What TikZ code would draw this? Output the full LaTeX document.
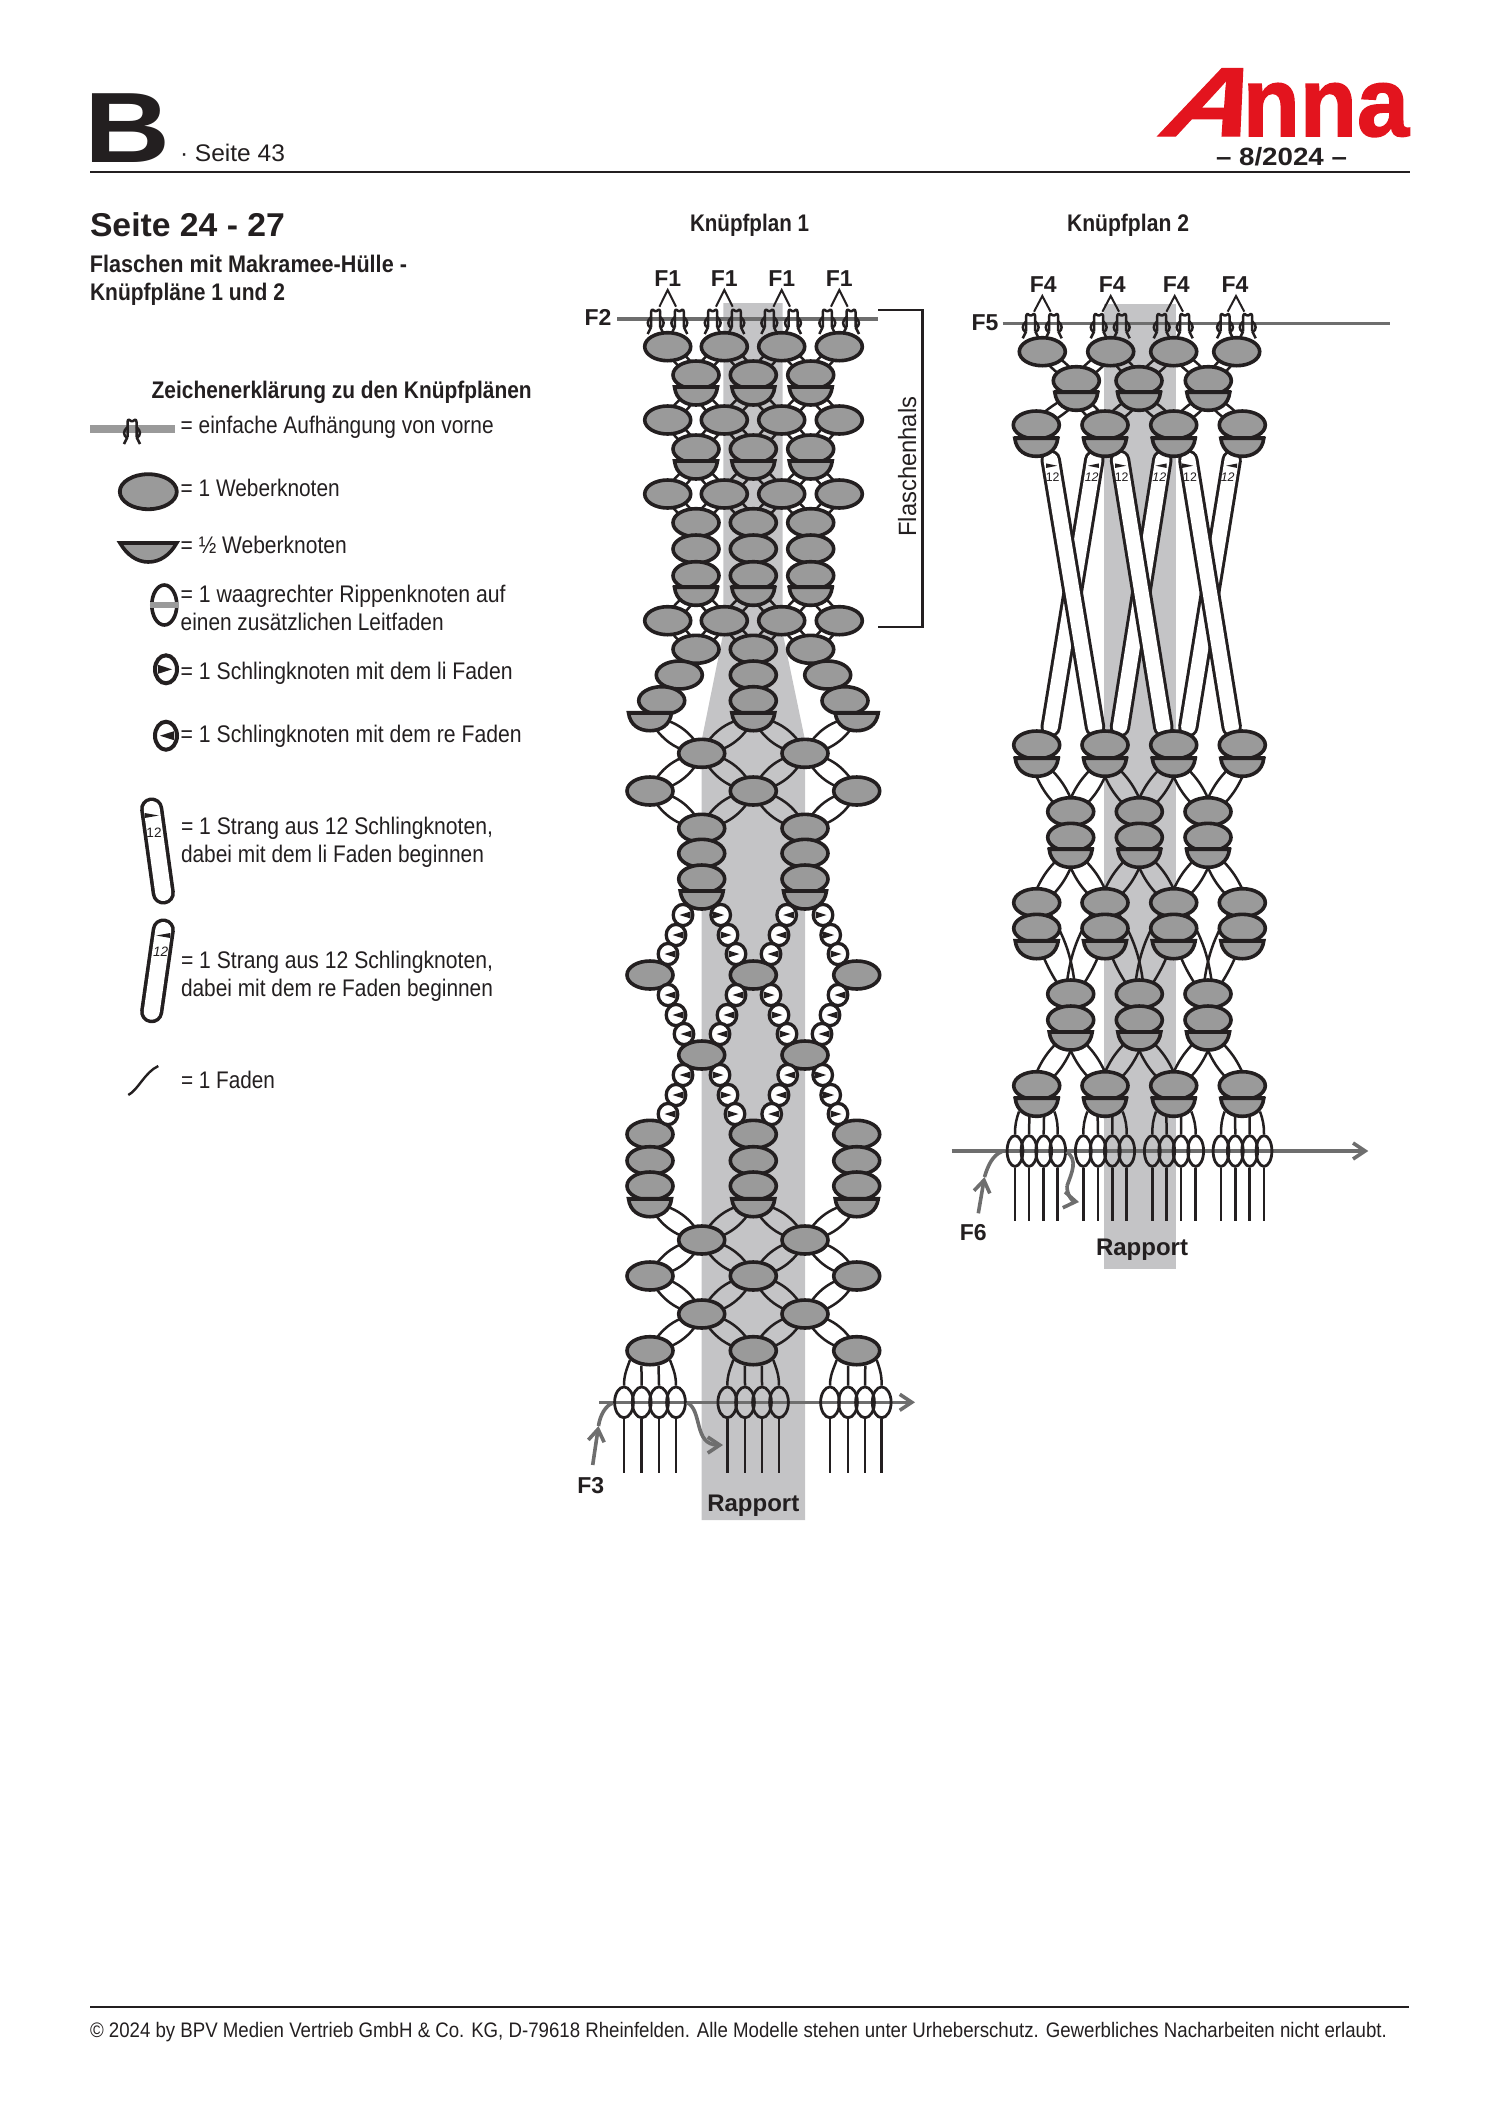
\documentclass[tikz,border=0pt]{standalone}
\usepackage{graphicx}
\usepackage{fontspec}
\setmainfont{Liberation Sans}
\newfontfamily\logoAf[FakeSlant=0.4,FakeBold=1.2]{Liberation Sans}
\newfontfamily\logoNf[FakeBold=1.6]{Liberation Sans}
\usetikzlibrary{shapes.geometric,arrows.meta,calc}
\definecolor{ink}{HTML}{231F20}
\definecolor{knotgrey}{HTML}{9A9A9A}
\definecolor{rapp}{HTML}{C4C4C6}
\definecolor{guide}{HTML}{6E6E6E}
\definecolor{logored}{HTML}{E3141E}
\pgfdeclarelayer{bg}
\pgfsetlayers{bg,main}
\newcommand\fw[2]{\setbox0=\hbox{#2}\pgfmathsetmacro\fwf{(#1)*0.5/\the\wd0}\scalebox{\fwf}[1]{\box0}}
\tikzset{
  txt/.style={anchor=base west,inner sep=0pt,outer sep=0pt,text=ink},
  ctxt/.style={anchor=base,inner sep=0pt,outer sep=0pt,text=ink},
  lab/.style={ctxt,font=\fontsize{11.5}{11.5}\selectfont\bfseries},
  body/.style={txt,font=\fontsize{12}{12}\selectfont},
  head/.style={txt,font=\fontsize{12}{12}\selectfont\bfseries},
  weave/.style={ellipse,draw=ink,fill=knotgrey,line width=1.8pt,inner sep=0pt,minimum width=23pt,minimum height=14pt},
  halfst/.style={draw=ink,fill=knotgrey,line width=1.8pt,line join=miter},
  hanchor/.style={ellipse,inner sep=0pt,minimum width=22pt,minimum height=13pt},
  sling/.style={ellipse,draw=ink,fill=white,line width=1.65pt,inner sep=0pt,minimum width=9.8pt,minimum height=10.6pt},
  rib/.style={ellipse,draw=ink,line width=1.4pt,inner sep=0pt,minimum height=15.4pt},
  thr/.style={draw=ink,line width=1.25pt},
  chevron/.style={draw=ink,line width=1pt},
  guideline/.style={draw=guide,line width=1.8pt},
  grarrow/.style={draw=guide,line width=1.8pt,-{Straight Barb[length=6pt,width=8pt,line width=1.8pt]}},
  strand/.style={draw=ink,line width=1.5pt,double=white,double distance=7.2pt,line cap=round},
  rulerl/.style={draw=ink,line width=1.2pt},
  hang/.pic={
    \draw[ink,line width=1.25pt,line join=round]
      (-4.5,8) -- (-4.5,-7) .. controls (-4.5,-10) and (-2,-10) .. (-1,-8) -- (1,-8)
      .. controls (2,-10) and (4.5,-10) .. (4.5,-7) -- (4.5,8);
    \draw[ink,line width=1.25pt] (-4.5,-2) .. controls (-9,2) and (-9,6) .. (-5,9) -- (-8,15);
    \draw[ink,line width=1.25pt] (4.5,-2) .. controls (9,2) and (9,6) .. (5,9) -- (8,15);
  }
}
\newcommand\hk[3]{\path[halfst] (#2-21.5,#3) -- (#2+21.5,#3) .. controls (#2+20,#3+13) and (#2+10,#3+18) .. (#2,#3+18) .. controls (#2-10,#3+18) and (#2-20,#3+13) .. (#2-21.5,#3) -- cycle;
  \draw[ink,line width=2pt] (#2-22.8,#3) -- (#2+22.8,#3);
  \node[hanchor] (#1) at (#2,#3+5) {};}
\newcommand\krow[3]{\foreach \xx [count=\ii] in {#2} {\node[weave] (#1\ii) at (\xx,#3) {};}}
\newcommand\hrow[3]{\foreach \xx [count=\ii] in {#2} {\hk{#1\ii}{\xx}{#3}}}
\def\lensw{1pt}
\newcommand\lens[3]{\draw[thr] ($(#1.center)!\lensw!90:(#2.center)$) to[bend left=#3] ($(#2.center)!\lensw!-90:(#1.center)$) ($(#1.center)!\lensw!-90:(#2.center)$) to[bend right=#3] ($(#2.center)!\lensw!90:(#1.center)$);}
\newcommand\linkfour[3]{\lens{#1-1}{#2-1}{#3}\lens{#1-2}{#2-1}{#3}\lens{#1-2}{#2-2}{#3}\lens{#1-3}{#2-2}{#3}\lens{#1-3}{#2-3}{#3}\lens{#1-4}{#2-3}{#3}}
\newcommand\linkthree[3]{\lens{#1-1}{#2-1}{#3}\lens{#1-2}{#2-1}{#3}\lens{#1-2}{#2-2}{#3}\lens{#1-3}{#2-2}{#3}}
\newcommand\tri[5]{\fill[ink] ({#1-(#3)*#4/2},{#2-#5/2}) -- ({#1+(#3)*#4/2},#2) -- ({#1-(#3)*#4/2},{#2+#5/2}) -- cycle;}
\newcommand\slk[4]{\node[sling] (#1) at (#2,#3) {};\tri{#2+(#4)*(-2)}{#3}{#4}{11}{7}}
\newcommand\chain[9]{\slk{#1a}{#2}{#3}{#8}\slk{#1b}{#4}{#5}{#8}\slk{#1c}{#6}{#7}{#8}\begin{pgfonlayer}{bg}\draw[thr] (#9) -- (#1a) -- (#1b) -- (#1c);\end{pgfonlayer}}
\newcommand\ribs[6]{%
  \foreach \xx [count=\ii] in {#2} {\node[rib,minimum width=#4] (#1\ii) at (\xx,#3) {};
    \draw[thr] (#1\ii.south) -- (\xx,#5);}
  \begin{pgfonlayer}{bg}
    \draw[thr] (#11.north) to[out=90,in=-110] (#6.205);
    \draw[thr] (#12.north) to[out=90,in=-90] (#6.240);
    \draw[thr] (#13.north) to[out=90,in=-90] (#6.300);
    \draw[thr] (#14.north) to[out=90,in=-70] (#6.335);
  \end{pgfonlayer}}
\begin{document}
\begin{tikzpicture}[x=0.5pt,y=-0.5pt]
\useasboundingbox (0,0) rectangle (1500,2121);
\begin{pgfonlayer}{bg}
  \fill[rapp] (723.3,303) -- (782.7,303) -- (782.7,633) -- (805,740) -- (805,1520) -- (701.7,1520) -- (701.7,740) -- (723.3,633) -- cycle;
  \fill[rapp] (1104.3,304.3) rectangle (1175.7,1269.3);
\end{pgfonlayer}
% ---- header
\node[txt,font=\fontsize{50}{50}\selectfont\bfseries] (bigB) at (84,162.5) {\fw{86}{B}};
\node[txt,font=\fontsize{12}{12}\selectfont] (seite) at (180,161.7) {\fw{105}{· Seite 43}};
\coordinate (hl) at (90,171.7); \coordinate (hr) at (1410,171.7);
\draw[ink,line width=1.2pt] (hl) -- (hr);
\node[txt,font=\fontsize{49}{49}\selectfont\bfseries,text=logored] (logo) at (1155,136) {\fw{254}{\scalebox{1.3}[1]{\logoAf\bfseries A}{\logoNf\bfseries nna}}};
\node[txt,font=\fontsize{12.5}{12.5}\selectfont\bfseries] (issue) at (1216,165.7) {\fw{131}{– 8/2024 –}};
% ---- left column
\node[txt,font=\fontsize{16.5}{16.5}\selectfont\bfseries] (t1) at (90,236.7) {\fw{195}{Seite 24 - 27}};
\node[head] (t2) at (90,272) {\fw{317}{Flaschen mit Makramee-Hülle -}};
\node[head] (t3) at (90,300) {\fw{195}{Knüpfpläne 1 und 2}};
\node[head] (kp1) at (690,231.7) {\fw{119}{Knüpfplan 1}};
\node[head] (kp2) at (1067,231.7) {\fw{122}{Knüpfplan 2}};
\node[head] (leg) at (151.7,398) {\fw{380}{Zeichenerklärung zu den Knüpfplänen}};
\node[body] (l1) at (180.7,433) {\fw{313}{= einfache Aufhängung von vorne}};
\node[body] (l2) at (180.7,496.7) {\fw{159}{= 1 Weberknoten}};
\node[body] (l3) at (180.7,553) {\fw{166}{= ½ Weberknoten}};
\node[body] (l4) at (180.7,602) {\fw{325}{= 1 waagrechter Rippenknoten auf}};
\node[body] (l5) at (180.7,630) {\fw{263}{einen zusätzlichen Leitfaden}};
\node[body] (l6) at (180.7,679.3) {\fw{332}{= 1 Schlingknoten mit dem li Faden}};
\node[body] (l7) at (180.7,742.3) {\fw{341}{= 1 Schlingknoten mit dem re Faden}};
\node[body] (l8) at (181,834) {\fw{312}{= 1 Strang aus 12 Schlingknoten,}};
\node[body] (l9) at (181,862.3) {\fw{303}{dabei mit dem li Faden beginnen}};
\node[body] (l10) at (181,968.3) {\fw{312}{= 1 Strang aus 12 Schlingknoten,}};
\node[body] (l11) at (181,996.7) {\fw{312}{dabei mit dem re Faden beginnen}};
\node[body] (l12) at (181,1088) {\fw{94}{= 1 Faden}};
% ---- legend symbols
\coordinate (lg1) at (90,429); \coordinate (lg2) at (175,429);
\draw[knotgrey,line width=3.6pt] (lg1) -- (lg2);
\pic at (132,429) {hang};
\node[weave,line width=1.9pt,minimum width=28.5pt,minimum height=17.5pt] (lgw) at (148.3,491.7) {};
\path[halfst] (120,543) -- (176.7,543) .. controls (170,555) and (160,562) .. (148.3,562) .. controls (137,562) and (127,555) .. (120,543) -- cycle;
\draw[ink,line width=1.9pt] (120,543) -- (176.7,543);
\node[ellipse,draw=ink,line width=1.8pt,inner sep=0pt,minimum width=12.5pt,minimum height=20pt] (lgr) at (164.3,605) {};
\draw[knotgrey,line width=2.6pt] (lgr.west) -- (lgr.east);
\node[sling,line width=2pt,minimum width=11pt,minimum height=14pt] (lgs1) at (166,669.3) {};
\tri{165}{669.3}{1}{14}{9}
\node[sling,line width=2pt,minimum width=11pt,minimum height=14pt] (lgs2) at (166,735.7) {};
\tri{167}{735.7}{-1}{14}{9}
\coordinate (cap1a) at (151.7,809); \coordinate (cap1b) at (163.3,893);
\draw[strand,line width=1.8pt,double distance=8pt] (cap1a) -- (cap1b);
\tri{151.7}{815.5}{1}{14}{5}
\node[ctxt,font=\fontsize{6.8}{6.8}\selectfont] (lg12a) at (154,837) {12};
\coordinate (cap2a) at (163.3,930); \coordinate (cap2b) at (151.7,1011.7);
\draw[strand,line width=1.8pt,double distance=8pt] (cap2a) -- (cap2b);
\tri{163.3}{935.5}{-1}{14}{5}
\node[ctxt,font=\fontsize{6.8}{6.8}\selectfont\itshape] (lg12b) at (160.7,956.5) {12};
\coordinate (fa) at (128.3,1095); \coordinate (fb) at (158.3,1066);
\draw[ink,line width=1.2pt] (fa) .. controls (138,1090) and (145,1072) .. (fb);
% ---- Plan 1
\coordinate (f2a) at (617,319); \coordinate (f2b) at (878,319);
\draw[guideline] (f2a) -- (f2b);
\foreach \xx in {655.7,679.3,712.7,736.3,769.3,793,827.3,851} {\pic at (\xx,319) {hang};}
\foreach \xx in {667.7,724.3,781.7,839.3} {
  \node[lab] at (\xx,286.7) {F1};
  \draw[chevron] (\xx-8.3,306.7) -- (\xx,290) -- (\xx+8.3,306.7);}
\node[lab] (f2) at (598,325) {F2};
\coordinate (br1) at (878,310); \coordinate (br2) at (922.3,310); \coordinate (br3) at (922.3,626.7); \coordinate (br4) at (878,626.7);
\draw[rulerl] (br1) -- (br2) -- (br3) -- (br4);
\node[anchor=base,rotate=90,inner sep=0pt,font=\fontsize{12.5}{12.5}\selectfont,text=ink] (fh) at (916,466.7) {\fw{140}{Flaschenhals}};
\krow{a-}{667.7,724.3,781.7,839.3}{346.7}
\krow{b-}{696,753.3,810.7}{375}
\hrow{bh-}{696,753.3,810.7}{387}
\krow{c-}{667.7,724.3,781.7,839.3}{420}
\krow{d-}{696,753.3,810.7}{449}
\hrow{dh-}{696,753.3,810.7}{461}
\krow{e-}{667.7,724.3,781.7,839.3}{494}
\krow{f-}{696,753.3,810.7}{522.7}
\krow{fx-}{696,753.3,810.7}{549}
\krow{fy-}{696,753.3,810.7}{575.7}
\hrow{fh-}{696,753.3,810.7}{587.3}
\krow{g-}{667.7,724.3,781.7,839.3}{620.7}
\krow{i-}{696,753.3,810.7}{649.3}
\krow{j-}{679.3,753.3,827.7}{675}
\krow{k-}{661.7,753.3,845}{700.7}
\hrow{kh-}{650,753.3,856.7}{712.7}
\krow{m-}{701.7,805}{753.3}
\krow{n-}{650,753.3,856.7}{791}
\krow{o-}{701.7,805}{828.3}
\krow{ox-}{701.7,805}{853.3}
\krow{oy-}{701.7,805}{879}
\hrow{oh-}{701.7,805}{891}
\krow{p-}{650,753.3,856.7}{975}
\krow{q-}{701.7,805}{1055}
\krow{r-}{650,753.3,856.7}{1134.3}
\krow{rx-}{650,753.3,856.7}{1160.7}
\krow{ry-}{650,753.3,856.7}{1186}
\hrow{rh-}{650,753.3,856.7}{1198.7}
\krow{s-}{701.7,805}{1240}
\krow{t-}{650,753.3,856.7}{1276}
\krow{u-}{701.7,805}{1314}
\krow{v-}{650,753.3,856.7}{1350.7}
% chains plan 1
\chain{ca}{683}{915}{676}{935}{668}{954}{-1}{oh-1}
\chain{cb}{720.7}{915}{728}{935}{736}{954}{1}{oh-1}
\chain{cc}{786.7}{915}{779}{935}{771}{954}{-1}{oh-2}
\chain{cd}{823}{915}{830.7}{935}{838}{954}{1}{oh-2}
\chain{ce}{668}{995}{676}{1015}{684}{1034}{-1}{p-1}
\chain{cf}{736}{995}{727}{1015}{720}{1034}{-1}{p-2}
\chain{cg}{771}{995}{779}{1015}{787}{1034}{1}{p-2}
\chain{ch}{838}{995}{830}{1015}{822}{1034}{-1}{p-3}
\chain{ci}{683}{1075}{676}{1095}{668}{1114}{-1}{q-1}
\chain{cj}{720}{1075}{728}{1095}{735}{1114}{1}{q-1}
\chain{ck}{787.7}{1075}{779}{1095}{771.7}{1114}{-1}{q-2}
\chain{cl}{822.7}{1075}{830.7}{1095}{838}{1114}{1}{q-2}
\begin{pgfonlayer}{bg}
  \def\lensw{1.8pt}
  \linkfour{a}{b}{12}
  \linkfour{c}{bh}{12}
  \linkfour{c}{d}{12}
  \linkfour{e}{dh}{12}
  \linkfour{e}{f}{12}
  \linkfour{g}{fh}{12}
  \linkfour{g}{i}{12}
  \def\lensw{0.6pt}
  \linkthree{kh}{m}{27}
  \linkthree{n}{m}{27}
  \linkthree{n}{o}{27}
  \linkthree{rh}{s}{27}
  \linkthree{t}{s}{27}
  \linkthree{t}{u}{27}
  \linkthree{v}{u}{27}
\end{pgfonlayer}
% ribs plan 1
\coordinate (f3a) at (599,1402.3); \coordinate (f3b) at (915,1402.3);
\draw[grarrow] (f3a) -- (f3b);
\ribs{w1-}{624,641.7,659,676}{1402.3}{9.4pt}{1472.7}{v-1}
\ribs{w2-}{727.3,745,762,779}{1402.3}{9.4pt}{1472.7}{v-2}
\ribs{w3-}{830,848,865,881.7}{1402.3}{9.4pt}{1472.7}{v-3}
\coordinate (f3s) at (592.7,1465); \coordinate (f3m) at (598.5,1426); \coordinate (f3e) at (613,1403);
\draw[grarrow] (f3s) -- (f3m);
\draw[guideline] (f3m) .. controls (600,1415) and (606,1405) .. (f3e);
\coordinate (f3r) at (686.7,1402.3); \coordinate (f3t) at (723,1445);
\draw[grarrow] (f3r) .. controls (703,1410) and (693,1445) .. (f3t);
\node[lab] (f3) at (590.7,1493.3) {F3};
\node[ctxt,font=\fontsize{12}{12}\selectfont\bfseries] (rap1) at (753.3,1511.7) {Rapport};
% ---- Plan 2
\coordinate (f5a) at (1002.7,323.3); \coordinate (f5b) at (1390,323.3);
\draw[guideline] (f5a) -- (f5b);
\foreach \xx in {1030.7,1053.7,1098.7,1121.7,1161.7,1184.7,1225,1247.7} {\pic at (\xx,323.3) {hang};}
\foreach \xx/\xt in {1042.3/1043.3,1110.7/1112.3,1174.7/1176.3,1236/1235} {
  \node[lab] at (\xt,292.3) {F4};
  \draw[chevron] (\xx-8.3,311.7) -- (\xx,296) -- (\xx+8.3,311.7);}
\node[lab] (f5) at (985,330) {F5};
\krow{aa-}{1042.3,1110.7,1173.7,1236.7}{351.7}
\krow{bb-}{1076.3,1139,1208.3}{380.7}
\hrow{bbh-}{1076.3,1139,1208.3}{392.3}
\krow{cc-}{1036.3,1105,1173.7,1242.3}{425}
\hrow{cch-}{1036.3,1105,1173.7,1242.3}{438.3}
\krow{dd-}{1036.7,1105,1173.7,1242.3}{745}
\hrow{ddh-}{1036.7,1105,1173.7,1242.3}{758.3}
\krow{ee-}{1070.7,1139.3,1208}{811.7}
\krow{ex-}{1070.7,1139.3,1208}{837.3}
\hrow{eh-}{1070.7,1139.3,1208}{849.3}
\krow{ff-}{1036.7,1105,1173.7,1242.3}{902.7}
\krow{fz-}{1036.7,1105,1173.7,1242.3}{928.3}
\hrow{ffh-}{1036.7,1105,1173.7,1242.3}{940.7}
\krow{gg-}{1070.7,1139.3,1208}{994}
\krow{gx-}{1070.7,1139.3,1208}{1020}
\hrow{gh-}{1070.7,1139.3,1208}{1032}
\krow{hh-}{1036.7,1105,1173.7,1242.3}{1085.7}
\hrow{hhh-}{1036.7,1105,1173.7,1242.3}{1098.3}
\begin{pgfonlayer}{bg}
  \def\lensw{2pt}
  \linkfour{aa}{bb}{10}
  \linkfour{cc}{bbh}{10}
  \def\lensw{2.6pt}
  \linkfour{ddh}{ee}{15}
  \linkfour{ff}{eh}{15}
  \linkfour{ff}{gg}{15}
  \linkfour{hh}{gh}{15}
  \foreach \n/\xa/\xb in {2/1094.3/1050.7,4/1162.3/1120,6/1231.7/1188.3,1/1050.7/1095,3/1120/1163.3,5/1188.3/1231.7} {
    \coordinate (st\n a) at (\xa,460); \coordinate (st\n b) at (\xb,727);
    \draw[strand] (st\n a) -- (st\n b);}
\end{pgfonlayer}
\foreach \xx/\xn/\dd/\fss in {1051.7/1052.7/1/\upshape,1093.3/1091.7/-1/\itshape,1120.7/1121.7/1/\upshape,1161/1159.3/-1/\itshape,1187.7/1190/1/\upshape,1231.7/1227.7/-1/\itshape} {
  \tri{\xx}{465.7}{\dd}{11}{4.5}
  \node[ctxt,font=\fontsize{6.2}{6.2}\selectfont\fss] at (\xn,481.5) {12};}
% ribs plan 2
\coordinate (f6a) at (951.7,1151); \coordinate (f6b) at (1368.3,1151);
\draw[grarrow] (f6a) -- (f6b);
\ribs{y1-}{1015,1029,1043.7,1057.7}{1151}{7.9pt}{1221}{hhh-1}
\ribs{y2-}{1083.3,1098,1112.3,1126.7}{1151}{7.9pt}{1221}{hhh-2}
\ribs{y3-}{1152.3,1166.7,1181,1195.7}{1151}{7.9pt}{1221}{hhh-3}
\ribs{y4-}{1221,1235.3,1249.7,1264}{1151}{7.9pt}{1221}{hhh-4}
\coordinate (f6s) at (978.3,1213.3); \coordinate (f6m) at (984.5,1177); \coordinate (f6e) at (1001.7,1151.7);
\draw[grarrow] (f6s) -- (f6m);
\draw[guideline] (f6m) .. controls (988,1165) and (993,1155) .. (f6e);
\coordinate (f6r) at (1066.7,1151.7); \coordinate (f6u) at (1067,1186); \coordinate (f6t) at (1079,1202);
\draw[guideline] (f6r) .. controls (1078,1160) and (1072,1172) .. (f6u);
\draw[grarrow] (f6u) .. controls (1067,1195) and (1072,1201) .. (f6t);
\node[lab] (f6) at (973.3,1240) {F6};
\node[ctxt,font=\fontsize{12}{12}\selectfont\bfseries] (rap2) at (1142,1255) {Rapport};
% ---- footer
\coordinate (fl) at (90,2007); \coordinate (fr) at (1409,2007);
\draw[ink,line width=0.9pt] (fl) -- (fr);
\node[txt,font=\fontsize{10.5}{10.5}\selectfont] (foot) at (90,2037) {\fw{1297}{© 2024 by BPV Medien Vertrieb GmbH \& Co. KG, D-79618 Rheinfelden. Alle Modelle stehen unter Urheberschutz. Gewerbliches Nacharbeiten nicht erlaubt.}};
\end{tikzpicture}
\end{document}
